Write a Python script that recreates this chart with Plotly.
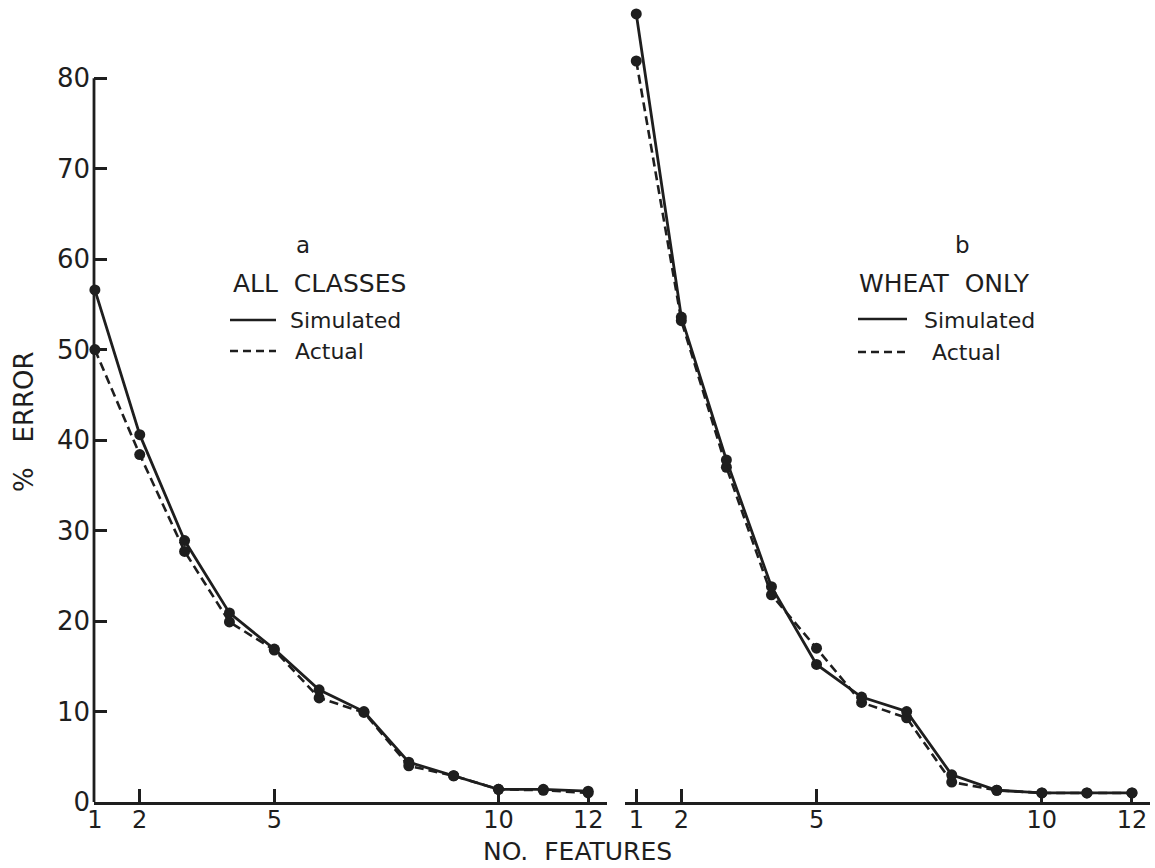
import plotly.graph_objects as go

# ---- data ----
features = [1, 2, 3, 4, 5, 6, 7, 8, 9, 10, 11, 12]
all_simulated = [56.6, 40.6, 28.9, 20.9, 16.9, 12.4, 10.0, 4.4, 2.9, 1.4, 1.4, 1.2]
all_actual = [50.0, 38.4, 27.7, 19.9, 16.8, 11.5, 9.9, 4.0, 2.9, 1.4, 1.3, 1.0]
wheat_simulated = [87.1, 53.6, 37.8, 23.8, 15.2, 11.6, 10.0, 3.0, 1.3, 1.0, 1.0, 1.0]
wheat_actual = [81.9, 53.2, 37.0, 22.9, 17.0, 11.0, 9.3, 2.2, 1.3, 1.0, 1.0, 1.0]
x_tickvals = [1, 2, 5, 10, 12]
x_ticktext = ["1", "2", "5", "10", "12"]
y_tickvals = [0, 10, 20, 30, 40, 50, 60, 70, 80]

INK = "#1e1e1e"
FONT = "DejaVu Sans"
W, H = 1155, 868
ML, MR, MT, MB = 94, 5, 4, 66
NB = "\u00a0"


def px(x):
    return (x - ML) / (W - ML - MR)


def py(y):
    return (H - MB - y) / (H - MB - MT)


fig = go.Figure()

def add_pair(sim, act, xa):
    fig.add_trace(go.Scatter(x=features, y=act, xaxis=xa, yaxis="y", mode="lines+markers",
                             line=dict(color=INK, width=2.6, dash="9px,5px"),
                             marker=dict(color=INK, size=11), showlegend=False, cliponaxis=False))
    fig.add_trace(go.Scatter(x=features, y=sim, xaxis=xa, yaxis="y", mode="lines+markers",
                             line=dict(color=INK, width=2.8),
                             marker=dict(color=INK, size=11), showlegend=False, cliponaxis=False))

add_pair(all_simulated, all_actual, "x")
add_pair(wheat_simulated, wheat_actual, "x2")

axis_common = dict(showgrid=False, zeroline=False, showline=True, linecolor=INK, linewidth=2.8,
                   ticks="inside", ticklen=13, tickwidth=2.6, tickcolor=INK,
                   tickvals=x_tickvals, ticktext=x_ticktext, ticklabelstandoff=-6,
                   tickfont=dict(family=FONT, size=24, color=INK), anchor="y")

fig.update_layout(
    width=W, height=H,
    margin=dict(l=ML, r=MR, t=MT, b=MB),
    paper_bgcolor="white", plot_bgcolor="white",
    xaxis=dict(domain=[0, px(607)], range=[0.98, 12.42], **axis_common),
    xaxis2=dict(domain=[px(625), 1], range=[0.75, 12.4], **axis_common),
    yaxis=dict(range=[0, 88.2], showgrid=False, zeroline=False, showline=False,
               ticks="inside", ticklen=13, tickwidth=2.6, tickcolor=INK,
               tickvals=y_tickvals, ticklabelstandoff=3,
               tickfont=dict(family=FONT, size=26, color=INK), anchor="x"),
)

# y axis line only up to 80
fig.add_shape(type="line", xref="x domain", yref="y", x0=0, x1=0, y0=0, y1=80,
              line=dict(color=INK, width=2.8))

def text(s, x, y, xanchor="left", size=23, angle=0):
    fig.add_annotation(text=s, x=px(x), y=py(y), xref="paper", yref="paper",
                       xanchor=xanchor, yanchor="middle", showarrow=False, textangle=angle,
                       font=dict(family=FONT, size=size, color=INK))

def legend_line(x0, x1, y, dash):
    fig.add_shape(type="line", xref="paper", yref="paper", x0=px(x0), x1=px(x1), y0=py(y), y1=py(y),
                  line=dict(color=INK, width=2.6, dash=dash))

# axis titles
text("%" + NB * 3 + "ERROR", 24, 422, xanchor="center", size=26, angle=-90)
text("NO." + NB * 2 + "FEATURES", 577, 851, xanchor="center", size=25)

# panel a legend
text("a", 303, 245, xanchor="center")
text("ALL" + NB * 2 + "CLASSES", 231, 283, size=25)
legend_line(230, 276, 320, "solid")
text("Simulated", 288, 320, size=22)
legend_line(230, 276, 351, "8px,5px")
text("Actual", 293, 351, size=22)

# panel b legend
text("b", 962, 245, xanchor="center")
text("WHEAT" + NB * 2 + "ONLY", 857, 283, size=25)
legend_line(858, 907, 319, "solid")
text("Simulated", 922, 320, size=22)
legend_line(858, 907, 352, "8px,5px")
text("Actual", 930, 352, size=22)

fig.write_html("out.html")
